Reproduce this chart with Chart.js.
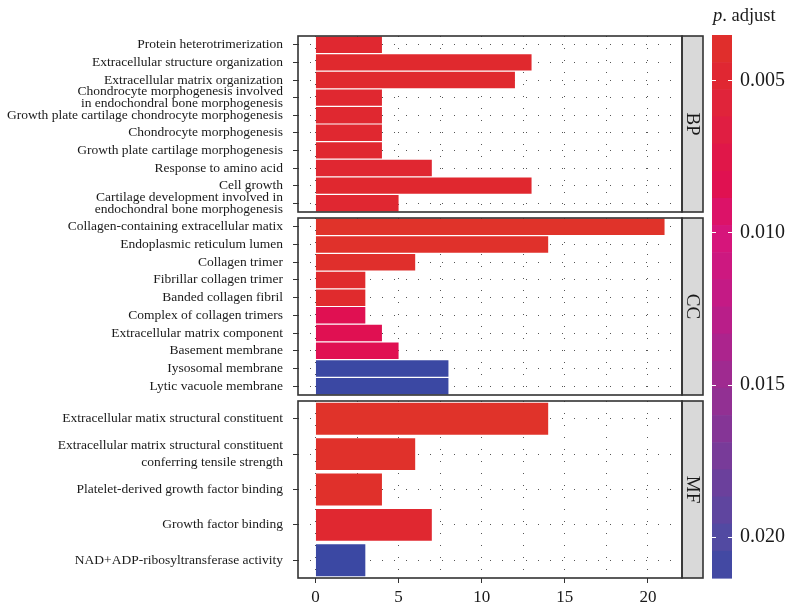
<!DOCTYPE html>
<html>
<head>
<meta charset="utf-8">
<script src="https://cdn.jsdelivr.net/npm/chart.js@4.4.1/dist/chart.umd.min.js"></script>
<style>
  html, body { margin: 0; padding: 0; background: #ffffff; }
  #wrap { position: relative; width: 789px; height: 612px; background: #ffffff; }
  #wrap canvas { position: absolute; left: 0; top: 0; }
</style>
</head>
<body>
<div id="wrap">
  <canvas id="bp" width="789" height="612"></canvas>
  <canvas id="cc" width="789" height="612"></canvas>
  <canvas id="mf" width="789" height="612"></canvas>
  <canvas id="legend" width="789" height="612"></canvas>
</div>
<script>
// ---- GO enrichment results, listed top to bottom within each ontology ----
const bpTerms = [
  "Protein heterotrimerization",
  "Extracellular structure organization",
  "Extracellular matrix organization",
  ["Chondrocyte morphogenesis involved", "in endochondral bone morphogenesis"],
  "Growth plate cartilage chondrocyte morphogenesis",
  "Chondrocyte morphogenesis",
  "Growth plate cartilage morphogenesis",
  "Response to amino acid",
  "Cell growth",
  ["Cartilage development involved in", "endochondral bone morphogenesis"]
];
const bpCounts = [4, 13, 12, 4, 4, 4, 4, 7, 13, 5];
const bpPadj = [0.0046, 0.0044, 0.0044, 0.0046, 0.0046, 0.0046, 0.0046, 0.0047, 0.0045, 0.0047];

const ccTerms = [
  "Collagen-containing extracellular matix",
  "Endoplasmic reticulum lumen",
  "Collagen trimer",
  "Fibrillar collagen trimer",
  "Banded collagen fibril",
  "Complex of collagen trimers",
  "Extracellular matrix component",
  "Basement membrane",
  "Iysosomal membrane",
  "Lytic vacuole membrane"
];
const ccCounts = [21, 14, 6, 3, 3, 3, 4, 5, 8, 8];
const ccPadj = [0.00351, 0.0037, 0.0039, 0.0042, 0.0042, 0.0085, 0.0085, 0.0085, 0.02136, 0.02136];

const mfTerms = [
  "Extracellular matix structural constituent",
  ["Extracellular matrix structural constituent", "conferring tensile strength"],
  "Platelet-derived growth factor binding",
  "Growth factor binding",
  "NAD+ADP-ribosyltransferase activity"
];
const mfCounts = [14, 6, 4, 7, 3];
const mfPadj = [0.00355, 0.0037, 0.0038, 0.0046, 0.02136];

// Axis ticks: gridlines every 2.5 genes, labels every 5
const xTickValues = [0, 2.5, 5, 7.5, 10, 12.5, 15, 17.5, 20];
// Colour-bar ticks for p.adjust
const legendTicks = [0.005, 0.010, 0.015, 0.020];

// ---- styling ----
const SERIF = "'Liberation Serif', 'Times New Roman', serif";
const INK = '#1a1a1a';
const GRID = '#555555';
const FRAME = '#333333';

// red -> magenta -> blue ramp for p.adjust
const padjStops = [
  [0.00351, '#e0332a'],
  [0.0045,  '#e0282f'],
  [0.006,   '#e0233c'],
  [0.0085,  '#e01052'],
  [0.010,   '#d8147a'],
  [0.0125,  '#bf1c88'],
  [0.015,   '#9a2c91'],
  [0.0175,  '#763c9a'],
  [0.020,   '#524aa2'],
  [0.02136, '#3b48a3']
];

function hexToRgb(h) {
  const n = parseInt(h.slice(1), 16);
  return [(n >> 16) & 255, (n >> 8) & 255, n & 255];
}
function padjColor(p) {
  const s = padjStops;
  if (p <= s[0][0]) return s[0][1];
  if (p >= s[s.length - 1][0]) return s[s.length - 1][1];
  for (let i = 0; i < s.length - 1; i++) {
    const [p0, c0] = s[i], [p1, c1] = s[i + 1];
    if (p >= p0 && p <= p1) {
      const t = (p - p0) / (p1 - p0);
      const a = hexToRgb(c0), b = hexToRgb(c1);
      const m = a.map((v, k) => Math.round(v + (b[k] - v) * t));
      return `rgb(${m[0]},${m[1]},${m[2]})`;
    }
  }
  return s[0][1];
}

const allPadj = bpPadj.concat(ccPadj, mfPadj);
const pMin = Math.min(...allPadj);
const pMax = Math.max(...allPadj);

// Panel frame plus the grey facet strip on the right
function panelPlugin(label) {
  return {
    id: 'panelFrame',
    afterDraw(chart) {
      const { ctx, chartArea: a } = chart;
      const h = a.bottom - a.top;
      ctx.save();
      ctx.fillStyle = '#d9d9d9';
      ctx.fillRect(a.right, a.top, 21, h);
      ctx.strokeStyle = FRAME;
      ctx.lineWidth = 1.6;
      ctx.strokeRect(a.right, a.top, 21, h);
      ctx.strokeRect(a.left, a.top, a.right - a.left, h);
      ctx.translate(a.right + 10.5, a.top + h / 2);
      ctx.rotate(Math.PI / 2);
      ctx.fillStyle = INK;
      ctx.font = `19px ${SERIF}`;
      ctx.textAlign = 'center';
      ctx.textBaseline = 'middle';
      ctx.fillText(label, 0, 1);
      ctx.restore();
    }
  };
}

function facet(id, terms, counts, padj, strip, o) {
  return new Chart(document.getElementById(id), {
    type: 'bar',
    data: {
      labels: terms,
      datasets: [{
        data: counts,
        backgroundColor: padj.map(padjColor),
        borderWidth: 0,
        barPercentage: o.barPct,
        categoryPercentage: 1
      }]
    },
    options: {
      indexAxis: 'y',
      responsive: false,
      animation: false,
      devicePixelRatio: 1,
      layout: { padding: { top: o.top, bottom: o.bottom, left: 0, right: 107 } },
      plugins: { legend: { display: false }, tooltip: { enabled: false } },
      scales: {
        x: {
          type: 'linear',
          min: -1.05,
          max: 22.05,
          bounds: 'data',
          afterBuildTicks: s => { s.ticks = xTickValues.map(v => ({ value: v })); },
          afterFit: s => { s.height = o.xHeight; },
          grid: {
            color: GRID,
            lineWidth: 1,
            drawTicks: o.showX,
            tickLength: 5,
            tickWidth: 1,
            tickColor: c => (c.tick && c.tick.value % 5 === 0) ? FRAME : 'rgba(0,0,0,0)'
          },
          border: { display: false, dash: [1, 11] },
          ticks: {
            display: o.showX,
            autoSkip: false,
            maxRotation: 0,
            padding: 4,
            color: INK,
            font: { family: SERIF, size: 17 },
            callback: v => (v % 5 === 0 ? String(v) : '')
          }
        },
        y: {
          type: 'category',
          afterFit: s => { s.width = 298; },
          grid: {
            offset: false,
            color: GRID,
            lineWidth: 1,
            tickLength: 5,
            tickWidth: 1,
            tickColor: FRAME
          },
          border: { display: false, dash: [1, 11] },
          ticks: {
            autoSkip: false,
            padding: 10,
            color: INK,
            font: { family: SERIF, size: 13.5, lineHeight: o.lh }
          }
        }
      }
    },
    plugins: [panelPlugin(strip)]
  });
}

facet('bp', bpTerms, bpCounts, bpPadj, 'BP', { top: 36, bottom: 400, xHeight: 0, showX: false, barPct: 0.93, lh: 0.86 });
facet('cc', ccTerms, ccCounts, ccPadj, 'CC', { top: 218, bottom: 217, xHeight: 0, showX: false, barPct: 0.93, lh: 0.86 });
facet('mf', mfTerms, mfCounts, mfPadj, 'MF', { top: 401, bottom: 0, xHeight: 34, showX: true, barPct: 0.9, lh: 1.23 });

// Colour bar legend for p.adjust (20 bins, white tick marks, title)
const colorbarPlugin = {
  id: 'colorbar',
  afterDraw(chart) {
    const { ctx, chartArea: a, scales: { y } } = chart;
    const nbin = 20;
    const step = (pMax - pMin) / nbin;
    ctx.save();
    for (let i = 0; i < nbin; i++) {
      const v0 = pMin + i * step, v1 = v0 + step;
      const y0 = y.getPixelForValue(v0), y1 = y.getPixelForValue(v1);
      ctx.fillStyle = padjColor(v0 + step / 2);
      ctx.fillRect(a.left, Math.min(y0, y1), a.right - a.left, Math.abs(y1 - y0) + 0.6);
    }
    ctx.strokeStyle = '#ffffff';
    ctx.lineWidth = 1;
    legendTicks.forEach(v => {
      const py = Math.round(y.getPixelForValue(v)) + 0.5;
      ctx.beginPath();
      ctx.moveTo(a.left, py); ctx.lineTo(a.left + 4, py);
      ctx.moveTo(a.right - 4, py); ctx.lineTo(a.right, py);
      ctx.stroke();
    });
    ctx.fillStyle = INK;
    ctx.textAlign = 'left';
    ctx.textBaseline = 'alphabetic';
    ctx.font = `italic 18.5px ${SERIF}`;
    ctx.fillText('p', 713, 21);
    const w = ctx.measureText('p').width;
    ctx.font = `18.5px ${SERIF}`;
    ctx.fillText('. adjust', 713 + w, 21);
    ctx.restore();
  }
};

new Chart(document.getElementById('legend'), {
  type: 'scatter',
  data: { datasets: [] },
  options: {
    responsive: false,
    animation: false,
    devicePixelRatio: 1,
    layout: { padding: { left: 712, top: 35, bottom: 34, right: 0 } },
    plugins: { legend: { display: false }, tooltip: { enabled: false } },
    scales: {
      x: { display: false },
      y: {
        type: 'linear',
        position: 'right',
        reverse: true,
        min: pMin,
        max: pMax,
        bounds: 'data',
        afterBuildTicks: s => { s.ticks = legendTicks.map(v => ({ value: v })); },
        afterFit: s => { s.width = 57; },
        grid: { display: false, drawTicks: false },
        border: { display: false },
        ticks: {
          padding: 8,
          color: INK,
          font: { family: SERIF, size: 20 },
          callback: v => v.toFixed(3)
        }
      }
    }
  },
  plugins: [colorbarPlugin]
});
</script>
</body>
</html>
